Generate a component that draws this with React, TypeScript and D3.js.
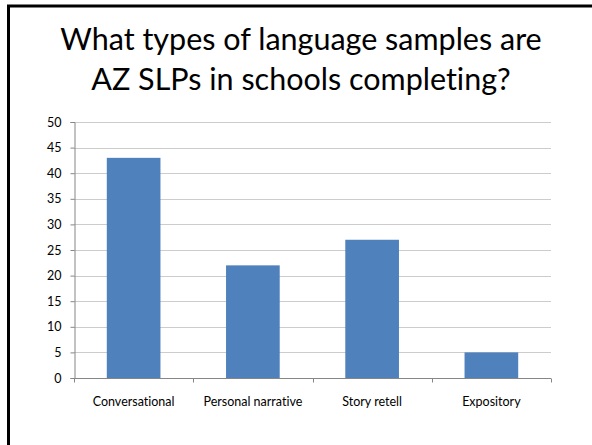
import React, { useEffect, useRef } from "react";
import * as d3 from "d3";

const titleLines = ["What types of language samples are", "AZ SLPs in schools completing?"];
const categories = ["Conversational", "Personal narrative", "Story retell", "Expository"];
const counts = [43, 22, 27, 5];
const yTicks = [0, 5, 10, 15, 20, 25, 30, 35, 40, 45, 50];

const App = () => {
  const svgRef = useRef<SVGSVGElement>(null);

  useEffect(() => {
    const width = 592;
    const height = 445;
    const font = "Lato, 'Open Sans', sans-serif";

    const svg = d3.select(svgRef.current);
    svg.selectAll("*").remove();
    svg.attr("width", width).attr("height", height);

    svg.append("rect").attr("width", width).attr("height", height).attr("fill", "#fff");

    // slide frame (cut off at right and bottom)
    svg.append("path")
      .attr("d", `M8.5,${height} V6 H${width}`)
      .attr("fill", "none")
      .attr("stroke", "#000")
      .attr("stroke-width", 3);

    svg.selectAll(".title")
      .data(titleLines)
      .enter()
      .append("text")
      .attr("class", "title")
      .attr("x", 301)
      .attr("y", (d, i) => 50 + i * 40)
      .attr("text-anchor", "middle")
      .style("font-family", font)
      .style("font-size", "30.5px")
      .style("font-variant-ligatures", "none")
      .attr("fill", "#000")
      .text(d => d);

    const x = d3.scaleBand()
      .domain(categories)
      .range([74, 551])
      .paddingInner(0.55)
      .paddingOuter(0.275);

    const y = d3.scaleLinear()
      .domain([0, 50])
      .range([378, 122]);

    const g = svg.append("g");

    g.selectAll(".grid")
      .data(yTicks.filter(d => d > 0))
      .enter()
      .append("line")
      .attr("class", "grid")
      .attr("x1", 74)
      .attr("x2", 551)
      .attr("y1", d => Math.round(y(d)) + 0.5)
      .attr("y2", d => Math.round(y(d)) + 0.5)
      .attr("stroke", "#cccccc")
      .attr("stroke-width", 1);

    g.selectAll(".bar")
      .data(counts)
      .enter()
      .append("rect")
      .attr("class", "bar")
      .attr("x", (d, i) => x(categories[i]))
      .attr("y", d => y(d))
      .attr("width", x.bandwidth())
      .attr("height", d => y(0) - y(d))
      .attr("fill", "#4f81bd");

    // y axis
    const yAxis = g.append("g")
      .attr("transform", "translate(74.5,0)")
      .call(d3.axisLeft(y).tickValues(yTicks).tickSize(4).tickPadding(9));
    yAxis.select(".domain").attr("stroke", "#868686");
    yAxis.selectAll(".tick line").attr("stroke", "#868686");
    yAxis.selectAll(".tick text")
      .style("font-family", font)
      .style("font-size", "12.5px")
      .attr("fill", "#000");

    // x axis
    const xAxis = g.append("g").attr("transform", `translate(0,${Math.round(y(0)) + 0.5})`);
    xAxis.append("line")
      .attr("x1", 74).attr("x2", 551)
      .attr("stroke", "#868686");
    const step = x.step();
    xAxis.selectAll(".xtick")
      .data(d3.range(categories.length + 1))
      .enter()
      .append("line")
      .attr("class", "xtick")
      .attr("x1", i => Math.round(74 + i * step) + 0.5)
      .attr("x2", i => Math.round(74 + i * step) + 0.5)
      .attr("y1", 0)
      .attr("y2", 4)
      .attr("stroke", "#868686");
    xAxis.selectAll(".xlabel")
      .data(categories)
      .enter()
      .append("text")
      .attr("class", "xlabel")
      .attr("x", d => x(d) + x.bandwidth() / 2)
      .attr("y", 27)
      .attr("text-anchor", "middle")
      .style("font-family", font)
      .style("font-size", "12.5px")
      .style("font-variant-ligatures", "none")
      .attr("fill", "#000")
      .text(d => d);
  }, []);

  return (
    <div style={{ position: "absolute", left: 0, top: 0 }}>
      <svg ref={svgRef} style={{ display: "block" }}></svg>
    </div>
  );
};

export default App;
